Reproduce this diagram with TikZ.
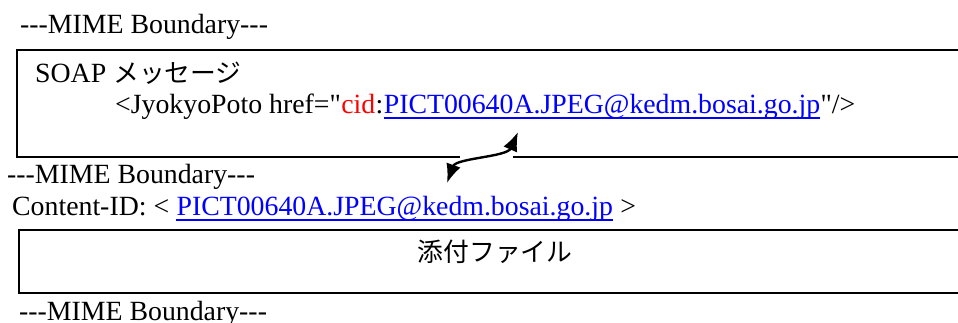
\documentclass[tikz,border=0pt]{standalone}
\usepackage{fontspec}
\newfontfamily\lser{Liberation Serif}
\newfontfamily\jpfont{Noto Sans CJK JP}
\usetikzlibrary{arrows.meta}
\definecolor{linkblue}{RGB}{0,0,255}
\definecolor{cidred}{RGB}{255,0,0}
\newcommand\hy{\hbox{-}}
\newcommand\bnd{\hy\hy\hy MIME Boundary\hy\hy\hy}
\begin{document}
\begin{tikzpicture}[x=1pt,y=-1pt,
  txt/.style={inner sep=0pt, anchor=base west, font=\lser\fontsize{27.8}{30}\selectfont},
  link/.style={txt, text=linkblue},
  jp/.style={inner sep=0pt, font=\jpfont\fontsize{25.8}{30}\selectfont},
  frame/.style={line width=2.4pt},
  uline/.style={linkblue, line width=1.8pt},
  refarrow/.style={line width=2.4pt, >={Latex[length=19pt,width=15pt]}, <->}]
\useasboundingbox (0,0) rectangle (958,322);
\clip (0,0) rectangle (958,322);

% frames
\draw[frame] (460,157) -- (17,157) -- (17,50) -- (975,50);
\draw[frame] (513,157) -- (975,157);
\draw[frame] (975,230) -- (19,230) -- (19,293) -- (975,293);

% texts
\node[txt] (mime1) at (20,33) {\bnd};
\node[txt] (soap) at (35,82) {SOAP {\jpfont\fontsize{25.8}{30}\selectfont メッセージ}};
\node[txt] (tag) at (115,113) {<JyokyoPoto href="};
\node[txt, text=cidred] (cid) at (tag.base east) {cid};
\node[txt] (colon) at (cid.base east) {:};
\node[link] (uri1) at (colon.base east) {PICT00640A.JPEG@kedm.bosai.go.jp};
\node[txt] (close) at (uri1.base east) {"/>};
\draw[uline] ([yshift=-5pt]uri1.base west) -- ([yshift=-5pt]uri1.base east);

\node[txt] (mime2) at (7,183) {\bnd};
\node[txt] (cidlabel) at (12,215) {Content-ID: <};
\node[link] (uri2) at ([xshift=7pt]cidlabel.base east) {PICT00640A.JPEG@kedm.bosai.go.jp};
\node[txt] (gt) at ([xshift=7pt]uri2.base east) {>};
\draw[uline] ([yshift=-5pt]uri2.base west) -- ([yshift=-5pt]uri2.base east);

\node[jp, anchor=base] (attach) at (495,261) {添付ファイル};
\node[txt] (mime3) at (19,320) {\bnd};

% reference arrow
\coordinate (ta) at (447,183);
\coordinate (tb) at (518,132);
\draw[refarrow] (ta) .. controls (456,158) and (507,157) .. (tb);
\end{tikzpicture}
\end{document}
